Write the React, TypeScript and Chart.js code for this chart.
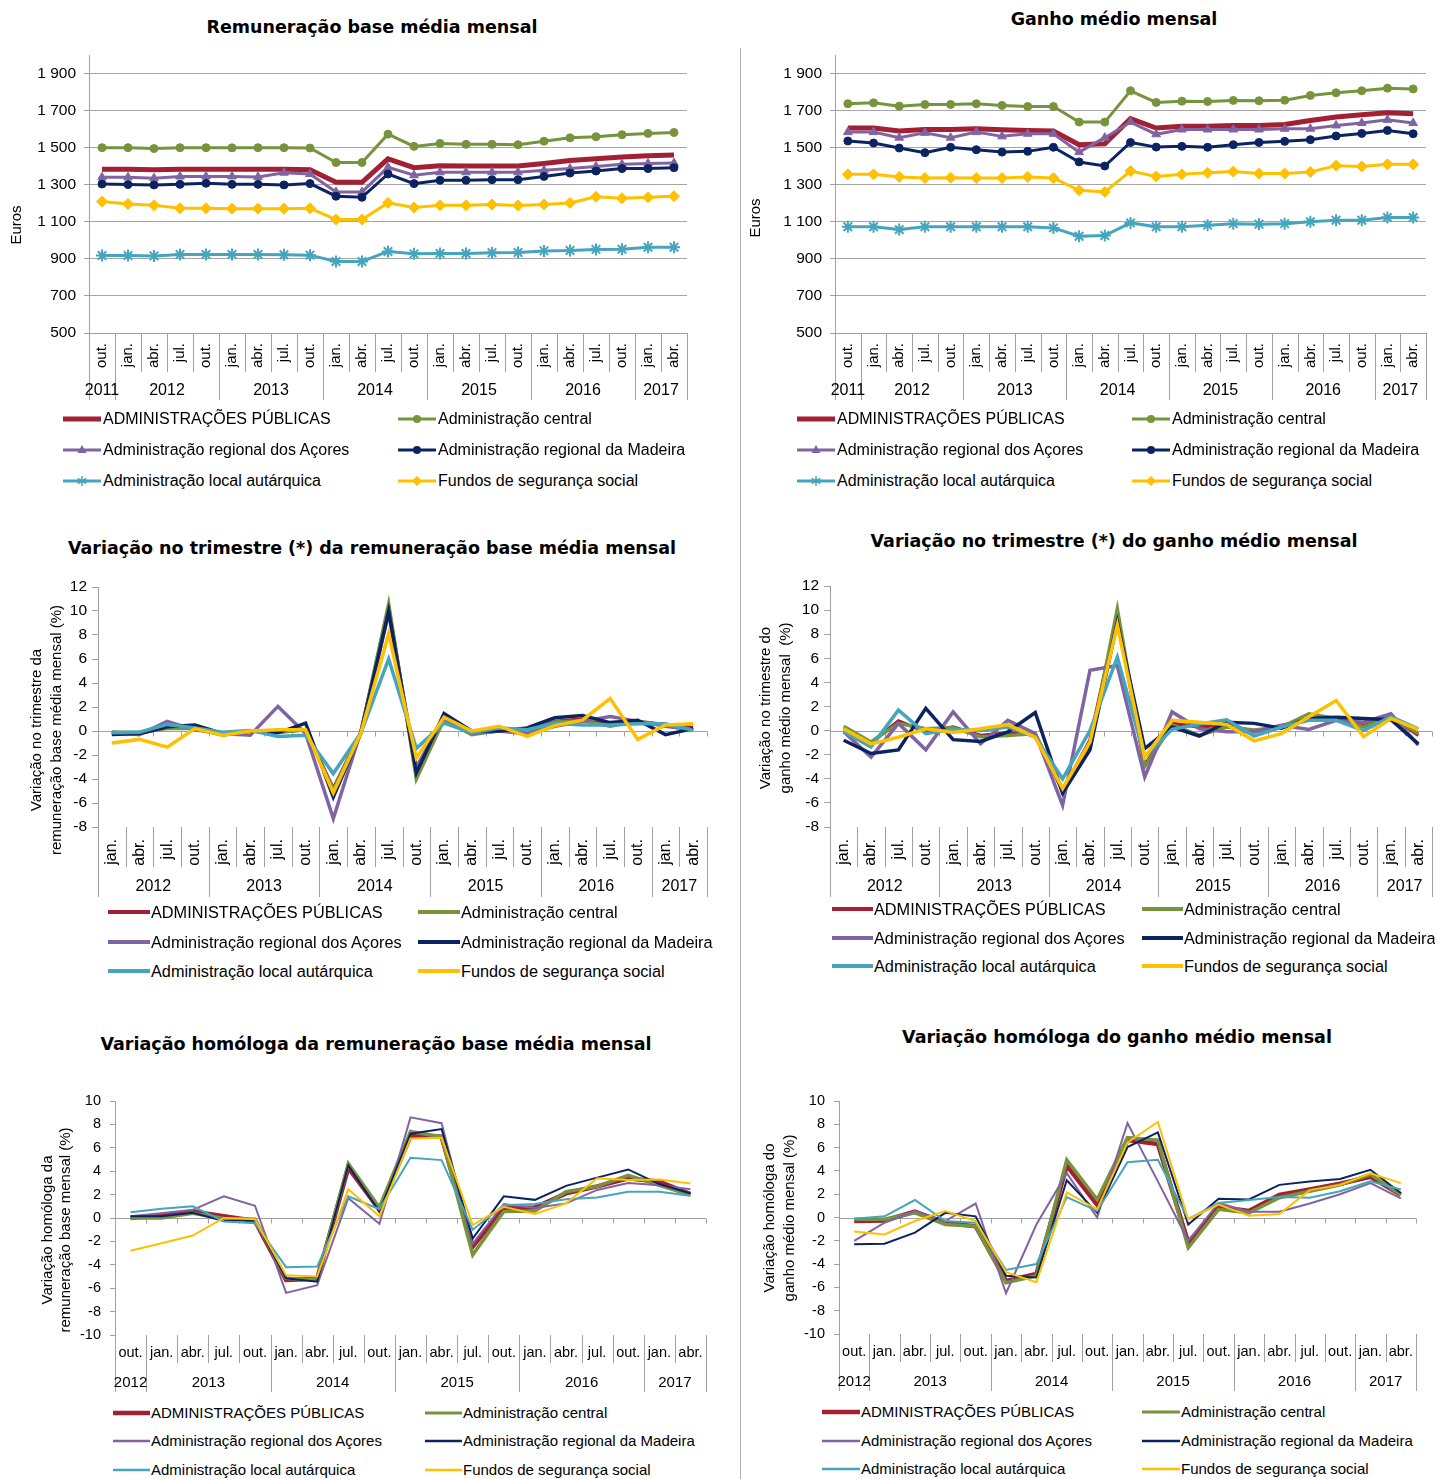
import React, { useEffect, useRef } from 'react';
import { Chart, registerables } from 'chart.js';

Chart.register(...registerables);

// ---------------- DATA ----------------
const seriesNames = [
  'ADMINISTRAÇÕES PÚBLICAS',
  'Administração central',
  'Administração regional dos Açores',
  'Administração regional da Madeira',
  'Administração local autárquica',
  'Fundos de segurança social',
];

// Monthly level charts (out. 2011 .. abr. 2017)
const levelCats = ['out.', 'jan.', 'abr.', 'jul.', 'out.', 'jan.', 'abr.', 'jul.', 'out.', 'jan.', 'abr.', 'jul.', 'out.', 'jan.', 'abr.', 'jul.', 'out.', 'jan.', 'abr.', 'jul.', 'out.', 'jan.', 'abr.'];
const levelYears = ['2011', '2012', '2013', '2014', '2015', '2016', '2017'];
const levelYearSpans = [1, 4, 4, 4, 4, 4, 2];
const levelTicks = [500, 700, 900, 1100, 1300, 1500, 1700, 1900];

// Quarterly change charts (jan. 2012 .. abr. 2017)
const quarterCats = ['jan.', 'abr.', 'jul.', 'out.', 'jan.', 'abr.', 'jul.', 'out.', 'jan.', 'abr.', 'jul.', 'out.', 'jan.', 'abr.', 'jul.', 'out.', 'jan.', 'abr.', 'jul.', 'out.', 'jan.', 'abr.'];
const quarterYears = ['2012', '2013', '2014', '2015', '2016', '2017'];
const quarterYearSpans = [4, 4, 4, 4, 4, 2];
const quarterTicks = [-8, -6, -4, -2, 0, 2, 4, 6, 8, 10, 12];

// Year-on-year change charts (out. 2012 .. abr. 2017)
const homolCats = ['out.', 'jan.', 'abr.', 'jul.', 'out.', 'jan.', 'abr.', 'jul.', 'out.', 'jan.', 'abr.', 'jul.', 'out.', 'jan.', 'abr.', 'jul.', 'out.', 'jan.', 'abr.'];
const homolYears = ['2012', '2013', '2014', '2015', '2016', '2017'];
const homolYearSpans = [1, 4, 4, 4, 4, 2];
const homolTicks = [-10, -8, -6, -4, -2, 0, 2, 4, 6, 8, 10];

// Remuneração base média mensal (euros)
const remAP = [1383, 1383, 1381, 1383, 1383, 1383, 1383, 1383, 1381, 1313, 1313, 1440, 1392, 1403, 1401, 1401, 1401, 1415, 1431, 1440, 1449, 1457, 1460];
const remCentral = [1500, 1500, 1495, 1500, 1500, 1499, 1500, 1500, 1498, 1420, 1420, 1573, 1507, 1523, 1518, 1518, 1516, 1535, 1553, 1559, 1570, 1577, 1582];
const remAcores = [1340, 1340, 1335, 1344, 1345, 1345, 1342, 1365, 1358, 1261, 1261, 1394, 1351, 1367, 1367, 1367, 1367, 1378, 1387, 1399, 1410, 1415, 1417];
const remMadeira = [1304, 1301, 1299, 1302, 1308, 1302, 1302, 1299, 1306, 1238, 1232, 1358, 1306, 1324, 1324, 1327, 1327, 1345, 1363, 1374, 1387, 1387, 1392];
const remLocal = [918, 918, 916, 924, 924, 924, 924, 922, 920, 886, 886, 940, 927, 929, 929, 933, 934, 943, 945, 951, 952, 963, 963];
const remFundos = [1209, 1196, 1189, 1173, 1173, 1171, 1171, 1171, 1173, 1112, 1112, 1202, 1177, 1189, 1189, 1193, 1188, 1193, 1202, 1235, 1227, 1232, 1238];

// Ganho médio mensal (euros)
const ganAP = [1606, 1606, 1590, 1598, 1598, 1602, 1597, 1593, 1590, 1516, 1521, 1656, 1606, 1615, 1615, 1620, 1620, 1625, 1647, 1665, 1677, 1688, 1683];
const ganCentral = [1737, 1742, 1724, 1733, 1733, 1737, 1728, 1722, 1722, 1638, 1638, 1807, 1744, 1751, 1749, 1755, 1753, 1756, 1782, 1796, 1807, 1821, 1817];
const ganAcores = [1584, 1584, 1554, 1580, 1554, 1584, 1561, 1575, 1575, 1476, 1554, 1638, 1572, 1598, 1598, 1598, 1598, 1602, 1602, 1620, 1633, 1650, 1633];
const ganMadeira = [1536, 1525, 1498, 1473, 1502, 1489, 1476, 1480, 1502, 1423, 1401, 1528, 1503, 1507, 1502, 1516, 1528, 1534, 1543, 1563, 1577, 1593, 1575];
const ganLocal = [1073, 1073, 1058, 1073, 1073, 1073, 1073, 1073, 1067, 1022, 1026, 1094, 1073, 1073, 1082, 1090, 1087, 1090, 1100, 1108, 1108, 1123, 1123];
const ganFundos = [1356, 1356, 1342, 1336, 1338, 1336, 1336, 1342, 1336, 1270, 1261, 1374, 1345, 1356, 1365, 1371, 1360, 1360, 1369, 1403, 1399, 1410, 1410];

// Variação no trimestre da remuneração base (%)
const remQAP = [-0.2, -0.2, 0.3, 0.3, -0.3, 0.0, -0.1, 0.1, -4.8, -0.1, 10.3, -3.6, 1.1, -0.2, 0.0, -0.1, 0.8, 1.0, 0.5, 0.8, 0.5, 0.3];
const remQCentral = [-0.1, -0.1, 0.2, 0.2, -0.35, 0.0, -0.1, 0.1, -4.9, -0.1, 10.6, -4.0, 0.95, -0.3, 0.05, -0.15, 0.75, 0.85, 0.4, 0.8, 0.55, 0.1];
const remQAcores = [-0.1, -0.3, 0.8, 0.1, -0.2, -0.35, 2.05, -0.2, -7.3, 0.0, 9.8, -3.0, 1.1, -0.2, 0.0, -0.25, 0.4, 0.8, 1.2, 0.8, 0.4, 0.1];
const remQMadeira = [-0.3, -0.2, 0.35, 0.5, -0.2, 0.0, -0.15, 0.65, -5.5, -0.15, 10.0, -3.5, 1.45, 0.0, 0.0, 0.25, 1.1, 1.3, 0.7, 0.9, -0.3, 0.2];
const remQLocal = [-0.15, -0.1, 0.55, 0.25, -0.1, 0.05, -0.45, -0.35, -3.55, -0.15, 6.0, -1.45, 0.65, -0.15, 0.25, 0.1, 0.65, 0.5, 0.5, 0.6, 0.6, 0.05];
const remQFundos = [-1.0, -0.7, -1.35, 0.2, -0.35, 0.0, 0.1, 0.1, -5.15, -0.15, 8.1, -2.25, 1.15, 0.0, 0.4, -0.45, 0.45, 0.9, 2.7, -0.7, 0.5, 0.6];

// Variação no trimestre do ganho médio (%)
const ganQAP = [0.2, -1.0, 0.8, -0.1, 0.3, -0.4, -0.2, -0.3, -5.0, -0.8, 9.5, -2.9, 0.6, 0.3, 0.5, -0.1, 0.4, 1.0, 1.0, 0.4, 1.2, -0.4];
const ganQCentral = [0.35, -0.95, 0.6, 0.15, 0.25, -0.5, -0.4, -0.25, -4.95, -1.35, 10.1, -3.0, 0.45, -0.4, 0.3, 0.05, 0.3, 1.4, 1.0, 0.3, 1.15, -0.25];
const ganQAcores = [-0.1, -2.2, 0.6, -1.6, 1.55, -1.1, 0.85, -0.25, -6.2, 5.0, 5.4, -3.85, 1.55, 0.15, -0.1, -0.1, 0.45, 0.1, 0.85, 0.7, 1.4, -1.2];
const ganQMadeira = [-0.8, -1.9, -1.6, 1.85, -0.75, -0.9, -0.1, 1.5, -5.2, -1.6, 9.0, -1.5, 0.3, -0.45, 0.7, 0.6, 0.2, 1.0, 1.1, 1.0, 0.9, -1.1];
const ganQLocal = [-0.1, -1.35, 1.7, -0.25, 0.1, 0.0, 0.3, -0.55, -4.0, 0.0, 6.1, -2.2, 0.1, 0.55, 0.9, -0.45, 0.3, 0.85, 0.85, 0.0, 1.15, 0.15];
const ganQFundos = [0.15, -1.1, -0.55, 0.15, -0.15, 0.15, 0.5, -0.55, -4.8, -0.95, 8.75, -2.2, 0.85, 0.7, 0.5, -0.85, -0.25, 1.15, 2.5, -0.5, 1.0, 0.1];

// Variação homóloga da remuneração base (%)
const remHAP = [0.0, 0.25, 0.55, 0.15, -0.25, -5.3, -5.2, 4.3, 0.7, 7.0, 6.95, -2.45, 0.85, 0.9, 2.1, 2.7, 3.4, 3.1, 2.05];
const remHCentral = [0.0, 0.0, 0.4, -0.05, -0.1, -5.15, -5.3, 4.65, 0.9, 7.4, 6.95, -3.15, 0.55, 0.6, 2.25, 2.7, 3.65, 2.8, 1.95];
const remHAcores = [0.15, 0.4, 0.7, 1.85, 1.05, -6.4, -5.75, 1.7, -0.5, 8.6, 8.1, -2.2, 1.2, 0.85, 1.25, 2.4, 3.0, 2.8, 2.45];
const remHMadeira = [0.15, 0.15, 0.45, -0.25, -0.15, -5.15, -5.45, 4.5, 0.55, 7.2, 7.6, -1.75, 1.85, 1.55, 2.75, 3.45, 4.15, 2.9, 2.1];
const remHLocal = [0.5, 0.8, 1.0, -0.3, -0.45, -4.2, -4.15, 1.85, 0.75, 5.15, 4.95, -1.0, 1.1, 1.2, 1.6, 1.75, 2.25, 2.25, 1.9];
const remHFundos = [-2.8, -2.15, -1.5, 0.0, -0.1, -4.9, -5.0, 2.45, 0.15, 6.8, 6.85, -0.6, 0.95, 0.35, 1.25, 3.4, 3.25, 3.3, 2.95];

// Variação homóloga do ganho médio (%)
const ganHAP = [-0.3, -0.25, 0.5, -0.45, -0.75, -5.45, -4.85, 4.45, 1.1, 6.65, 6.3, -2.15, 0.9, 0.55, 1.95, 2.4, 2.9, 3.5, 1.95];
const ganHCentral = [-0.15, -0.15, 0.4, -0.6, -0.75, -5.6, -5.0, 4.95, 1.55, 6.85, 6.65, -2.6, 0.7, 0.4, 1.7, 2.25, 2.8, 3.7, 1.95];
const ganHAcores = [-2.0, -0.45, 0.55, -0.3, 1.2, -6.5, -0.6, 3.8, 0.0, 8.1, 3.1, -2.0, 1.25, 0.5, 0.5, 1.2, 2.0, 2.95, 1.65];
const ganHMadeira = [-2.3, -2.25, -1.3, 0.4, 0.1, -5.0, -5.15, 3.2, 0.4, 6.05, 7.3, -0.6, 1.6, 1.55, 2.8, 3.1, 3.3, 4.1, 2.1];
const ganHLocal = [-0.1, 0.1, 1.5, -0.3, -0.45, -4.5, -4.0, 1.75, 0.55, 4.75, 4.95, -0.15, 1.25, 1.5, 1.75, 1.7, 2.25, 3.1, 2.4];
const ganHFundos = [-1.2, -1.45, -0.3, 0.55, -0.3, -4.7, -5.55, 2.15, 0.7, 6.45, 8.2, -0.15, 1.1, 0.15, 0.3, 2.35, 2.8, 3.8, 2.95];

// ---------------- STYLE ----------------
const FAMILY = '"Liberation Sans", Arial, sans-serif';
const TITLE_FAMILY = '"DejaVu Sans", Verdana, sans-serif';
const seriesColors = ['#A31F34', '#77933C', '#8064A2', '#0B2461', '#45A5BE', '#FFC000'];
const markerStyles: any[] = [false, 'circle', 'triangle', 'circle', 'star', 'rectRot'];
const markerRadii = [0, 4, 5, 4, 6, 5.5];
const gridGray = '#A6A6A6';
const axisGray = '#A0A0A0';

type Panel = {
  id: string;
  title: string; tx: number; ty: number;
  cx: number; cy: number; cw: number; ch: number;
  yWidth: number; padTop: number; padRight: number; xHeight: number;
  labels: string[]; years: string[]; spans: number[];
  series: number[][];
  yMin: number; yMax: number; yTicks: number[];
  gridOnArea: boolean; zeroLine: boolean; markers: boolean;
  lineWidths: number[];
  tickFont: number; yTickLen: number; yTickPad: number;
  monthFont: number; monthRot: number; monthPad: number;
  yearFont: number; monthDepth: number; yearDepth: number; yearY: number;
  yTitle: { lines: string[]; xs: number[]; y: number; font: number };
  legend: { rows: number[]; cols: number[]; mw: number; gap: number; font: number; lw: number[] };
};

const panels: Panel[] = [
  {
    id: 'tl', title: 'Remuneração base média mensal', tx: 372, ty: 27,
    cx: 0, cy: 35, cw: 700, ch: 375, yWidth: 89, padTop: 20, padRight: 13, xHeight: 77,
    labels: levelCats, years: levelYears, spans: levelYearSpans,
    series: [remAP, remCentral, remAcores, remMadeira, remLocal, remFundos],
    yMin: 500, yMax: 2000, yTicks: levelTicks,
    gridOnArea: true, zeroLine: false, markers: true, lineWidths: [5, 3, 3, 3, 3, 3],
    tickFont: 15.5, yTickLen: 5, yTickPad: 8,
    monthFont: 15, monthRot: 90, monthPad: 10,
    yearFont: 16, monthDepth: 39, yearDepth: 67, yearY: 58,
    yTitle: { lines: ['Euros'], xs: [17], y: 190, font: 15 },
    legend: { rows: [419, 450, 481], cols: [63, 398], mw: 38, gap: 2, font: 16, lw: [5, 3, 3, 3, 3, 3] },
  },
  {
    id: 'tr', title: 'Ganho médio mensal', tx: 1114, ty: 19,
    cx: 740, cy: 35, cw: 695, ch: 375, yWidth: 95, padTop: 20, padRight: 9, xHeight: 77,
    labels: levelCats, years: levelYears, spans: levelYearSpans,
    series: [ganAP, ganCentral, ganAcores, ganMadeira, ganLocal, ganFundos],
    yMin: 500, yMax: 2000, yTicks: levelTicks,
    gridOnArea: true, zeroLine: false, markers: true, lineWidths: [5, 3, 3, 3, 3, 3],
    tickFont: 15.5, yTickLen: 5, yTickPad: 8,
    monthFont: 15, monthRot: 90, monthPad: 10,
    yearFont: 16, monthDepth: 39, yearDepth: 67, yearY: 58,
    yTitle: { lines: ['Euros'], xs: [16], y: 183, font: 15 },
    legend: { rows: [419, 450, 481], cols: [797, 1132], mw: 38, gap: 2, font: 16, lw: [5, 3, 3, 3, 3, 3] },
  },
  {
    id: 'ml', title: 'Variação no trimestre (*) da remuneração base média mensal', tx: 372, ty: 548,
    cx: 0, cy: 567, cw: 720, ch: 340, yWidth: 98, padTop: 20, padRight: 13, xHeight: 80,
    labels: quarterCats, years: quarterYears, spans: quarterYearSpans,
    series: [remQAP, remQCentral, remQAcores, remQMadeira, remQLocal, remQFundos],
    yMin: -8, yMax: 12, yTicks: quarterTicks,
    gridOnArea: false, zeroLine: true, markers: false, lineWidths: [3.5, 3.5, 3.5, 3.5, 3.5, 3.5],
    tickFont: 15.5, yTickLen: 6, yTickPad: 5,
    monthFont: 16, monthRot: 90, monthPad: 12,
    yearFont: 16, monthDepth: 40, yearDepth: 70, yearY: 60,
    yTitle: { lines: ['Variação no trimestre da', 'remuneração base média mensal (%)'], xs: [37, 57], y: 163, font: 15 },
    legend: { rows: [912, 942, 971], cols: [108, 418], mw: 42, gap: 1, font: 16.3, lw: [4, 4, 4, 4, 4, 4] },
  },
  {
    id: 'mr', title: 'Variação no trimestre (*) do ganho médio mensal', tx: 1114, ty: 541,
    cx: 740, cy: 566, cw: 695, ch: 341, yWidth: 90, padTop: 20, padRight: 3, xHeight: 80,
    labels: quarterCats, years: quarterYears, spans: quarterYearSpans,
    series: [ganQAP, ganQCentral, ganQAcores, ganQMadeira, ganQLocal, ganQFundos],
    yMin: -8, yMax: 12, yTicks: quarterTicks,
    gridOnArea: false, zeroLine: true, markers: false, lineWidths: [3.5, 3.5, 3.5, 3.5, 3.5, 3.5],
    tickFont: 15.5, yTickLen: 6, yTickPad: 5,
    monthFont: 16, monthRot: 90, monthPad: 12,
    yearFont: 16, monthDepth: 40, yearDepth: 70, yearY: 60,
    yTitle: { lines: ['Variação no trimestre do', 'ganho médio mensal  (%)'], xs: [26, 46], y: 142, font: 15 },
    legend: { rows: [909, 938, 966], cols: [832, 1142], mw: 41, gap: 1, font: 16.3, lw: [4, 4, 4, 4, 4, 4] },
  },
  {
    id: 'bl', title: 'Variação homóloga da remuneração base média mensal', tx: 376, ty: 1044,
    cx: 0, cy: 1081, cw: 720, ch: 315, yWidth: 115, padTop: 20, padRight: 14, xHeight: 61,
    labels: homolCats, years: homolYears, spans: homolYearSpans,
    series: [remHAP, remHCentral, remHAcores, remHMadeira, remHLocal, remHFundos],
    yMin: -10, yMax: 10, yTicks: homolTicks,
    gridOnArea: false, zeroLine: true, markers: false, lineWidths: [4.5, 3.5, 2, 2, 2, 2],
    tickFont: 14.5, yTickLen: 5, yTickPad: 9,
    monthFont: 14.5, monthRot: 0, monthPad: 9,
    yearFont: 15, monthDepth: 28, yearDepth: 57, yearY: 48,
    yTitle: { lines: ['Variação homóloga da', 'remuneração base mensal (%)'], xs: [48, 66], y: 149, font: 15 },
    legend: { rows: [1413, 1441, 1470], cols: [113, 425], mw: 37, gap: 1, font: 15, lw: [4.5, 3, 2.5, 2.5, 2.5, 2.5] },
  },
  {
    id: 'br', title: 'Variação homóloga do ganho médio mensal', tx: 1117, ty: 1037,
    cx: 740, cy: 1081, cw: 695, ch: 314, yWidth: 99, padTop: 20, padRight: 19, xHeight: 61,
    labels: homolCats, years: homolYears, spans: homolYearSpans,
    series: [ganHAP, ganHCentral, ganHAcores, ganHMadeira, ganHLocal, ganHFundos],
    yMin: -10, yMax: 10, yTicks: homolTicks,
    gridOnArea: false, zeroLine: true, markers: false, lineWidths: [4.5, 3.5, 2, 2, 2, 2],
    tickFont: 14.5, yTickLen: 5, yTickPad: 9,
    monthFont: 14.5, monthRot: 0, monthPad: 9,
    yearFont: 15, monthDepth: 28, yearDepth: 57, yearY: 48,
    yTitle: { lines: ['Variação homóloga do', 'ganho médio mensal (%)'], xs: [30, 50], y: 137, font: 15 },
    legend: { rows: [1412, 1441, 1469], cols: [822, 1142], mw: 38, gap: 1, font: 15, lw: [4.5, 3, 2.5, 2.5, 2.5, 2.5] },
  },
];

// ---------------- PLUGIN ----------------
const groupAxisPlugin = {
  id: 'groupAxis',
  beforeDatasetsDraw(chart: any, _a: any, o: any) {
    if (!o || !o.zeroLine) return;
    const { ctx, chartArea } = chart;
    const xs = chart.scales.x;
    const ys = chart.scales.y;
    const n = chart.data.labels.length;
    const step = xs.getPixelForValue(1) - xs.getPixelForValue(0);
    const y0 = Math.round(ys.getPixelForValue(0)) + 0.5;
    ctx.save();
    ctx.strokeStyle = axisGray;
    ctx.lineWidth = 1;
    ctx.beginPath();
    ctx.moveTo(chartArea.left, y0);
    ctx.lineTo(chartArea.right, y0);
    for (let i = 0; i <= n; i++) {
      const bx = Math.round(xs.getPixelForValue(i) - step / 2) + 0.5;
      ctx.moveTo(bx, y0);
      ctx.lineTo(bx, y0 + 5);
    }
    ctx.stroke();
    ctx.restore();
  },
  afterDraw(chart: any, _a: any, o: any) {
    if (!o || !o.years) return;
    const { ctx, chartArea } = chart;
    const xs = chart.scales.x;
    const n = chart.data.labels.length;
    const step = xs.getPixelForValue(1) - xs.getPixelForValue(0);
    const bound = (i: number) => xs.getPixelForValue(i) - step / 2;
    const bottom = chartArea.bottom;
    const yearBounds = new Set<number>([0]);
    let acc = 0;
    o.spans.forEach((s: number) => { acc += s; yearBounds.add(acc); });
    ctx.save();
    ctx.strokeStyle = axisGray;
    ctx.lineWidth = 1;
    ctx.beginPath();
    for (let i = 0; i <= n; i++) {
      const bx = Math.round(bound(i)) + 0.5;
      const len = yearBounds.has(i) ? o.yearDepth : o.monthDepth;
      ctx.moveTo(bx, bottom);
      ctx.lineTo(bx, bottom + len);
    }
    ctx.stroke();
    ctx.fillStyle = '#000';
    ctx.font = `${o.yearFont}px ${FAMILY}`;
    ctx.textAlign = 'center';
    ctx.textBaseline = 'middle';
    acc = 0;
    o.years.forEach((yr: string, k: number) => {
      const a = bound(acc);
      const b = bound(acc + o.spans[k]);
      ctx.fillText(yr, (a + b) / 2, bottom + o.yearY);
      acc += o.spans[k];
    });
    const t = o.yTitle;
    ctx.font = `${t.font}px ${FAMILY}`;
    t.lines.forEach((line: string, k: number) => {
      ctx.save();
      ctx.translate(t.xs[k], t.y);
      ctx.rotate(-Math.PI / 2);
      ctx.textAlign = 'center';
      ctx.textBaseline = 'middle';
      ctx.fillText(line, 0, 0);
      ctx.restore();
    });
    ctx.restore();
  },
};

const fmtThousands = (v: number) =>
  v >= 1000 ? `${Math.floor(v / 1000)} ${String(v % 1000).padStart(3, '0')}` : `${v}`;

function buildConfig(p: Panel): any {
  const datasets = p.series.map((data, i) => ({
    label: seriesNames[i],
    data,
    borderColor: seriesColors[i],
    backgroundColor: seriesColors[i],
    borderWidth: p.lineWidths[i],
    pointStyle: p.markers ? markerStyles[i] : false,
    pointRadius: p.markers ? markerRadii[i] : 0,
    pointHoverRadius: 0,
    pointBorderWidth: p.markers ? (markerStyles[i] === 'star' ? 2 : 1) : 0,
    pointBackgroundColor: seriesColors[i],
    pointBorderColor: seriesColors[i],
    tension: 0,
    fill: false,
    order: 5 - i,
    clip: false,
  }));
  return {
    type: 'line',
    data: { labels: p.labels, datasets },
    plugins: [groupAxisPlugin],
    options: {
      responsive: false,
      animation: false,
      devicePixelRatio: 1,
      events: [],
      layout: { padding: { left: 0, top: p.padTop, right: p.padRight, bottom: 0 } },
      plugins: {
        legend: { display: false },
        tooltip: { enabled: false },
        title: { display: false },
        groupAxis: {
          years: p.years, spans: p.spans, zeroLine: p.zeroLine,
          yearFont: p.yearFont, monthDepth: p.monthDepth, yearDepth: p.yearDepth, yearY: p.yearY,
          yTitle: p.yTitle,
        },
      },
      scales: {
        x: {
          type: 'category',
          offset: true,
          grid: { display: false, drawTicks: false, drawOnChartArea: false },
          border: { display: p.gridOnArea, color: axisGray },
          ticks: {
            autoSkip: false,
            maxRotation: p.monthRot,
            minRotation: p.monthRot,
            padding: p.monthPad,
            color: '#000',
            font: { family: FAMILY, size: p.monthFont },
          },
          afterFit: (s: any) => { s.height = p.xHeight; s.paddingLeft = 0; s.paddingRight = 0; },
        },
        y: {
          type: 'linear',
          min: p.yMin,
          max: p.yMax,
          grid: {
            drawOnChartArea: p.gridOnArea,
            drawTicks: true,
            tickLength: p.yTickLen,
            color: gridGray,
            tickColor: axisGray,
          },
          border: { display: true, color: axisGray },
          ticks: {
            padding: p.yTickPad,
            color: '#000',
            font: { family: FAMILY, size: p.tickFont },
            callback: (v: any) => fmtThousands(Number(v)),
          },
          afterBuildTicks: (s: any) => { s.ticks = p.yTicks.map((v) => ({ value: v })); },
          afterFit: (s: any) => { s.width = p.yWidth; s.paddingTop = 0; s.paddingBottom = 0; },
        },
      },
    },
  };
}

function ChartCanvas({ p }: { p: Panel }) {
  const ref = useRef<HTMLCanvasElement>(null);
  useEffect(() => {
    const chart = new Chart(ref.current as HTMLCanvasElement, buildConfig(p));
    return () => chart.destroy();
  }, [p]);
  return (
    <canvas
      ref={ref}
      width={p.cw}
      height={p.ch}
      style={{ position: 'absolute', left: p.cx, top: p.cy, width: p.cw, height: p.ch, display: 'block' }}
    />
  );
}

function LegendMarker({ i, w, lw, marker }: { i: number; w: number; lw: number; marker: boolean }) {
  const c = seriesColors[i];
  const h = 16;
  const cy = h / 2;
  const cx = w / 2;
  let shape: any = null;
  if (marker) {
    const st = markerStyles[i];
    if (st === 'circle') shape = <circle cx={cx} cy={cy} r={4} fill={c} />;
    else if (st === 'triangle') shape = <polygon points={`${cx},${cy - 5} ${cx + 4.5},${cy + 3} ${cx - 4.5},${cy + 3}`} fill={c} />;
    else if (st === 'rectRot') shape = <polygon points={`${cx},${cy - 5} ${cx + 5},${cy} ${cx},${cy + 5} ${cx - 5},${cy}`} fill={c} />;
    else if (st === 'star')
      shape = (
        <g stroke={c} strokeWidth={1.5}>
          <line x1={cx} y1={cy - 5} x2={cx} y2={cy + 5} />
          <line x1={cx - 4.3} y1={cy - 2.5} x2={cx + 4.3} y2={cy + 2.5} />
          <line x1={cx - 4.3} y1={cy + 2.5} x2={cx + 4.3} y2={cy - 2.5} />
        </g>
      );
  }
  return (
    <svg width={w} height={h} style={{ display: 'block', flex: 'none' }}>
      <line x1={0} y1={cy} x2={w} y2={cy} stroke={c} strokeWidth={lw} />
      {shape}
    </svg>
  );
}

function Legend({ p }: { p: Panel }) {
  const L = p.legend;
  const items: any[] = [];
  seriesNames.forEach((name, i) => {
    const row = Math.floor(i / 2);
    const col = i % 2;
    items.push(
      <div
        key={`${p.id}-lg-${i}`}
        style={{
          position: 'absolute', left: L.cols[col], top: L.rows[row] - 12, height: 24,
          display: 'flex', alignItems: 'center', whiteSpace: 'nowrap',
          fontFamily: FAMILY, fontSize: L.font, color: '#000',
        }}
      >
        <LegendMarker i={i} w={L.mw} lw={L.lw[i]} marker={p.markers} />
        <span style={{ marginLeft: L.gap, lineHeight: '24px' }}>{name}</span>
      </div>
    );
  });
  return <>{items}</>;
}

function Title({ p }: { p: Panel }) {
  return (
    <div
      style={{
        position: 'absolute', left: p.tx - 400, width: 800, top: p.ty - 14, height: 28, lineHeight: '28px',
        textAlign: 'center', fontFamily: TITLE_FAMILY, fontWeight: 'bold', fontSize: 17.5, color: '#000',
        whiteSpace: 'nowrap',
      }}
    >
      {p.title}
    </div>
  );
}

export default function App() {
  return (
    <div
      style={{
        position: 'absolute', left: 0, top: 0, width: 1435, height: 1479, background: '#fff', overflow: 'hidden',
      }}
    >
      <div style={{ position: 'absolute', left: 740, top: 48, width: 1, height: 1431, background: '#B0B0B0' }} />
      {panels.map((p) => (
        <React.Fragment key={p.id}>
          <Title p={p} />
          <ChartCanvas p={p} />
          <Legend p={p} />
        </React.Fragment>
      ))}
    </div>
  );
}
